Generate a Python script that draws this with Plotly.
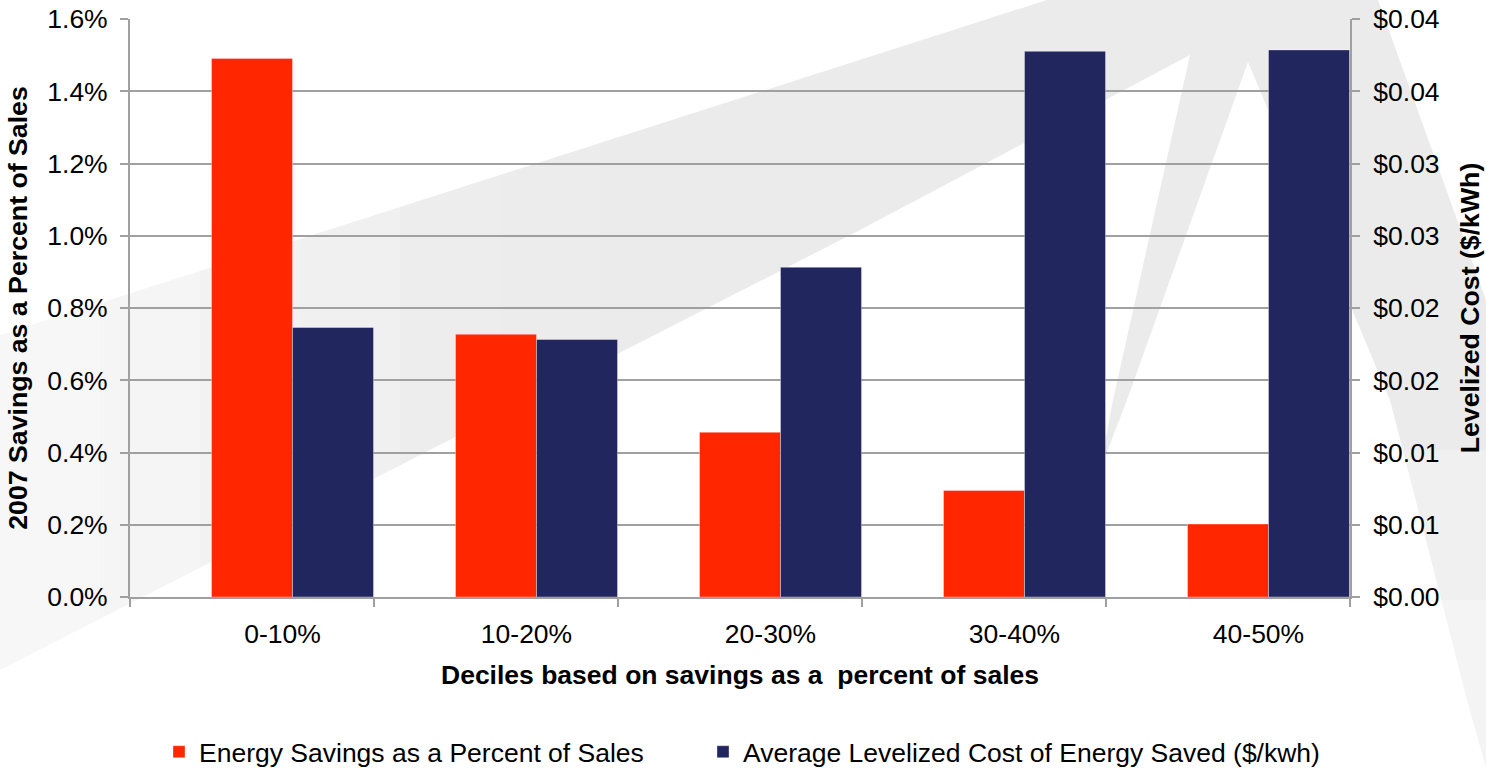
import plotly.graph_objects as go

# ---------------- data ----------------
categories = ["0-10%", "10-20%", "20-30%", "30-40%", "40-50%"]
savings_pct = [0.01491, 0.00727, 0.00456, 0.00295, 0.00202]          # left axis (fraction)
levelized_cost = [0.01865, 0.01782, 0.02282, 0.03776, 0.03786]      # right axis ($/kWh)
left_ticks = [0, 0.002, 0.004, 0.006, 0.008, 0.010, 0.012, 0.014, 0.016]
right_tick_vals = [0, 0.005, 0.010, 0.015, 0.020, 0.025, 0.030, 0.035, 0.040]
right_tick_labels = ["$0.00", "$0.01", "$0.01", "$0.02", "$0.02", "$0.03", "$0.03", "$0.04", "$0.04"]

series_names = ["Energy Savings as a Percent of Sales",
                "Average Levelized Cost of Energy Saved ($/kwh)"]
x_title = "Deciles based on savings as a\u00a0 percent of sales"
y_title = "2007 Savings as a Percent of Sales"
y2_title = "Levelized Cost ($/kWh)"

RED = "#FF2600"
NAVY = "#22265E"
GRID = "#A0A0A0"
FONT = "Liberation Sans, Arial, sans-serif"
FS = 26.5
FT = 26.7

# ---------------- page geometry ----------------
W, H = 1486, 768
L, R, T, B = 130, 136, 19, 171
PW, PH = W - L - R, H - T - B

def px(x):
    return (x - L) / PW

def py(y):
    return (H - B - y) / PH

xpos = list(range(len(categories)))
label_pos = [i + 0.125 for i in xpos]
boundaries = [i - 0.5 for i in range(len(categories) + 1)]

fig = go.Figure()
fig.add_trace(go.Bar(
    x=xpos, y=savings_pct, name=series_names[0],
    marker=dict(color=RED, line=dict(color="rgba(255,255,255,0.35)", width=1)),
    width=0.332, offset=-0.166, yaxis="y", legend="legend",
))
fig.add_trace(go.Bar(
    x=xpos, y=levelized_cost, name=series_names[1],
    marker=dict(color=NAVY, line=dict(color="rgba(255,255,255,0.35)", width=1)),
    width=0.332, offset=0.166, yaxis="y2", legend="legend2",
))

# ---------------- faint watermark ----------------
wm = [(0, 335), (1047, 0), (1378, 0), (1486, 300), (1486, 768), (1467, 700),
      (1390, 400), (1248, 62), (1127, 400), (1100, 470), (1113, 400),
      (1190, 55), (860, 230), (0, 670)]
path = "M " + " L ".join(f"{px(a):.5f},{py(b):.5f}" for a, b in wm) + " Z"
shapes = [dict(type="path", xref="paper", yref="paper", path=path,
               fillcolor="#EBEBEB", line=dict(width=0), layer="below")]
fade = [(0, 100, 0.6), (100, 200, 0.48), (200, 300, 0.36), (300, 400, 0.25),
        (400, 500, 0.14), (500, 600, 0.06)]
for x0, x1, op in fade:
    shapes.append(dict(type="rect", xref="paper", yref="paper",
                       x0=px(x0), x1=px(x1), y0=py(768), y1=py(0),
                       fillcolor="white", opacity=op, line=dict(width=0), layer="below"))
for y0, y1, op in [(450, 600, 0.25), (600, 768, 0.45)]:
    shapes.append(dict(type="rect", xref="paper", yref="paper",
                       x0=px(1360), x1=px(1486), y0=py(y1), y1=py(y0),
                       fillcolor="white", opacity=op, line=dict(width=0), layer="below"))

legend_common = dict(orientation="h", y=py(752), yanchor="middle", xanchor="left",
                     font=dict(size=FS, family=FONT), bgcolor="rgba(0,0,0,0)",
                     itemclick=False, itemdoubleclick=False)

fig.update_layout(
    width=W, height=H,
    margin=dict(l=L, r=R, t=T, b=B, autoexpand=False),
    paper_bgcolor="white", plot_bgcolor="rgba(0,0,0,0)",
    font=dict(family=FONT, size=FS, color="black"),
    barmode="overlay",
    shapes=shapes,
    showlegend=True,
    legend=dict(x=px(159), **legend_common),
    legend2=dict(x=px(703), **legend_common),
    xaxis=dict(range=[-0.5, len(categories) - 0.5], tickmode="array",
               tickvals=label_pos, ticktext=categories, ticks="", ticklen=0,
               showline=True, linecolor=GRID, linewidth=2, showgrid=False, zeroline=False,
               minor=dict(tickmode="array", tickvals=boundaries, ticks="outside",
                          ticklen=8, tickcolor=GRID, tickwidth=2, showgrid=False),
               ticklabelstandoff=12,
               title=dict(text=x_title, font=dict(size=FS, family=FONT, weight="bold"), standoff=18),
               fixedrange=True),
    yaxis=dict(range=[0, 0.016], tickmode="array", tickvals=left_ticks, tickformat=".1%",
               showline=True, linecolor=GRID, linewidth=2, ticks="outside", ticklen=8,
               tickcolor=GRID, tickwidth=2, showgrid=True, gridcolor=GRID, gridwidth=1.5,
               zeroline=False, ticklabelstandoff=7,
               title=dict(text=y_title, font=dict(size=FT, family=FONT, weight="bold"), standoff=12)),
    yaxis2=dict(range=[0, 0.04], overlaying="y", side="right", tickmode="array",
                tickvals=right_tick_vals, ticktext=right_tick_labels,
                showline=True, linecolor=GRID, linewidth=2, ticks="outside", ticklen=8,
                tickcolor=GRID, tickwidth=2, showgrid=False, zeroline=False,
                ticklabelstandoff=8,
                title=dict(text=y2_title, font=dict(size=FT, family=FONT, weight="bold"), standoff=22)),
)

fig.write_html("out.html")
